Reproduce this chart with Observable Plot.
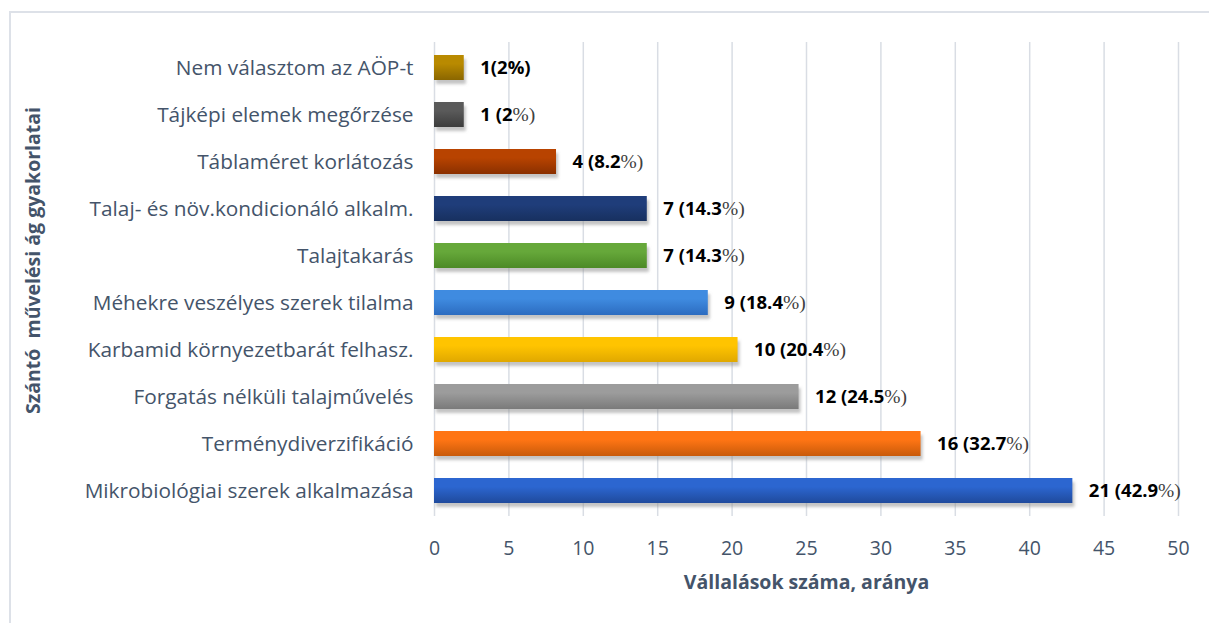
<!DOCTYPE html>
<html>
<head>
<meta charset="utf-8">
<script src="https://cdn.jsdelivr.net/npm/d3@7"></script>
<script src="https://cdn.jsdelivr.net/npm/@observablehq/plot@0.6"></script>
<style>
  html, body { margin: 0; padding: 0; background: #fff; }
  #chart svg { display: block; }
  #chart [aria-label^="y-axis"] text { font-size: 20.8px; fill: #44546a; }
  #chart [aria-label^="x-axis"] text { font-size: 19.5px; fill: #44546a; }
</style>
</head>
<body>
<div id="chart"></div>
<script>
// ---- data ----
const categories = [
  "Nem választom az AÖP-t",
  "Tájképi elemek megőrzése",
  "Táblaméret korlátozás",
  "Talaj- és növ.kondicionáló alkalm.",
  "Talajtakarás",
  "Méhekre veszélyes szerek tilalma",
  "Karbamid környezetbarát felhasz.",
  "Forgatás nélküli talajművelés",
  "Terménydiverzifikáció",
  "Mikrobiológiai szerek alkalmazása"
];
const counts   = [1, 1, 4, 7, 7, 9, 10, 12, 16, 21];
const percents = [2, 2, 8.2, 14.3, 14.3, 18.4, 20.4, 24.5, 32.7, 42.9];
const labelBold = ["1(2%)", "1 (2", "4 (8.2", "7 (14.3", "7 (14.3", "9 (18.4", "10 (20.4", "12 (24.5", "16 (32.7", "21 (42.9"];
const labelTail = ["", "%)", "%)", "%)", "%)", "%)", "%)", "%)", "%)", "%)"];
const barColors = ["#b98a00", "#5a5a5a", "#b84300", "#1f3d7a", "#66a83a", "#3f8be0", "#ffc400", "#9c9c9c", "#ff7514", "#2c66d0"];
const barColorsDark = ["#8a6600", "#3c3c3c", "#8a3000", "#17305f", "#4c8a26", "#2c6cc0", "#e0a800", "#7a7a7a", "#c85a0a", "#1f4a9c"];
const xTicks = [0, 5, 10, 15, 20, 25, 30, 35, 40, 45, 50];
const xTitle = "Vállalások száma, aránya";
const yTitle = "Szántó  művelési ág gyakorlatai";

const data = categories.map((c, i) => ({
  cat: c, count: counts[i], pct: percents[i],
  label: labelBold[i] + labelTail[i], color: barColors[i]
}));

const fontFamily = "'Open Sans', Lato, sans-serif";

const chart = Plot.plot({
  width: 1209,
  height: 623,
  marginLeft: 434,
  marginRight: 31,
  marginTop: 42,
  marginBottom: 107,
  style: { fontFamily, color: "#44546a", background: "white", overflow: "visible" },
  x: { domain: [0, 50], ticks: xTicks, tickSize: 0, tickPadding: 25, label: null },
  y: { domain: categories, paddingInner: 0.47, paddingOuter: 0.235, tickSize: 0, tickPadding: 21, label: null },
  color: { type: "identity" },
  marks: [
    Plot.ruleX(xTicks, { x: d => d, stroke: "#d9dde4", strokeWidth: 1.5 }),
    Plot.barX(data, { x: "pct", y: "cat", fill: "#8a8a8a", fillOpacity: 0.5, dx: 2, dy: 4, ariaDescription: "shadow" }),
    Plot.barX(data, { x: "pct", y: "cat", fill: "color", ariaDescription: "bars" }),
    Plot.text(data, { x: "pct", y: "cat", text: "label", dx: 16, textAnchor: "start",
      fontSize: 18.5, fontWeight: "bold", fill: "#000", ariaDescription: "value-labels" }),
    Plot.text([xTitle], { frameAnchor: "bottom", dy: 72, fontSize: 19.5, fontWeight: "bold", fill: "#44546a" }),
    Plot.text([yTitle], { frameAnchor: "left", rotate: -90, textAnchor: "middle", dx: -401, dy: -19, fontSize: 19.5, fontWeight: "bold", fill: "#44546a" })
  ]
});

const svg = d3.select(chart);
const defs = svg.insert("defs", ":first-child");
barColors.forEach((c, i) => {
  const g = defs.append("linearGradient").attr("id", "grad" + i)
    .attr("x1", 0).attr("y1", 0).attr("x2", 0).attr("y2", 1);
  g.append("stop").attr("offset", "0%").attr("stop-color", c);
  g.append("stop").attr("offset", "35%").attr("stop-color", c);
  g.append("stop").attr("offset", "100%").attr("stop-color", barColorsDark[i]);
});
const f = defs.append("filter").attr("id", "blur").attr("x", "-5%").attr("y", "-30%").attr("width", "110%").attr("height", "160%");
f.append("feGaussianBlur").attr("stdDeviation", 1.5);

// locate mark groups (by description, falling back to render order)
const barGroups = svg.selectAll('g[aria-label="bar"]').nodes();
const textGroups = svg.selectAll('g[aria-label="text"]').nodes();
const shadowG = svg.select('g[aria-description="shadow"]').node() || barGroups[0];
const barsG = svg.select('g[aria-description="bars"]').node() || barGroups[1];
const labelsG = svg.select('g[aria-description="value-labels"]').node() || textGroups[0];

d3.select(shadowG).attr("filter", "url(#blur)");
d3.select(barsG).selectAll("rect").each(function () {
  const fill = d3.color(this.getAttribute("fill")).formatHex();
  const idx = barColors.findIndex(c => d3.color(c).formatHex() === fill);
  if (idx >= 0) this.setAttribute("fill", `url(#grad${idx})`);
});
d3.select(labelsG).selectAll("text").each(function () {
  const txt = this.textContent;
  const i = labelBold.findIndex((b, k) => b + labelTail[k] === txt);
  if (i < 0) return;
  const t = d3.select(this);
  t.text(null);
  t.append("tspan").text(labelBold[i]);
  if (labelTail[i]) {
    t.append("tspan").text(labelTail[i])
      .attr("font-family", "'Liberation Serif', 'DejaVu Serif', serif")
      .attr("font-weight", "normal").attr("font-size", 19.5).attr("fill", "#404040");
  }
});
svg.append("path").attr("d", "M10,623V12H1209").attr("fill", "none")
  .attr("stroke", "#dde1e8").attr("stroke-width", 2);

document.getElementById("chart").appendChild(chart);
</script>
</body>
</html>
